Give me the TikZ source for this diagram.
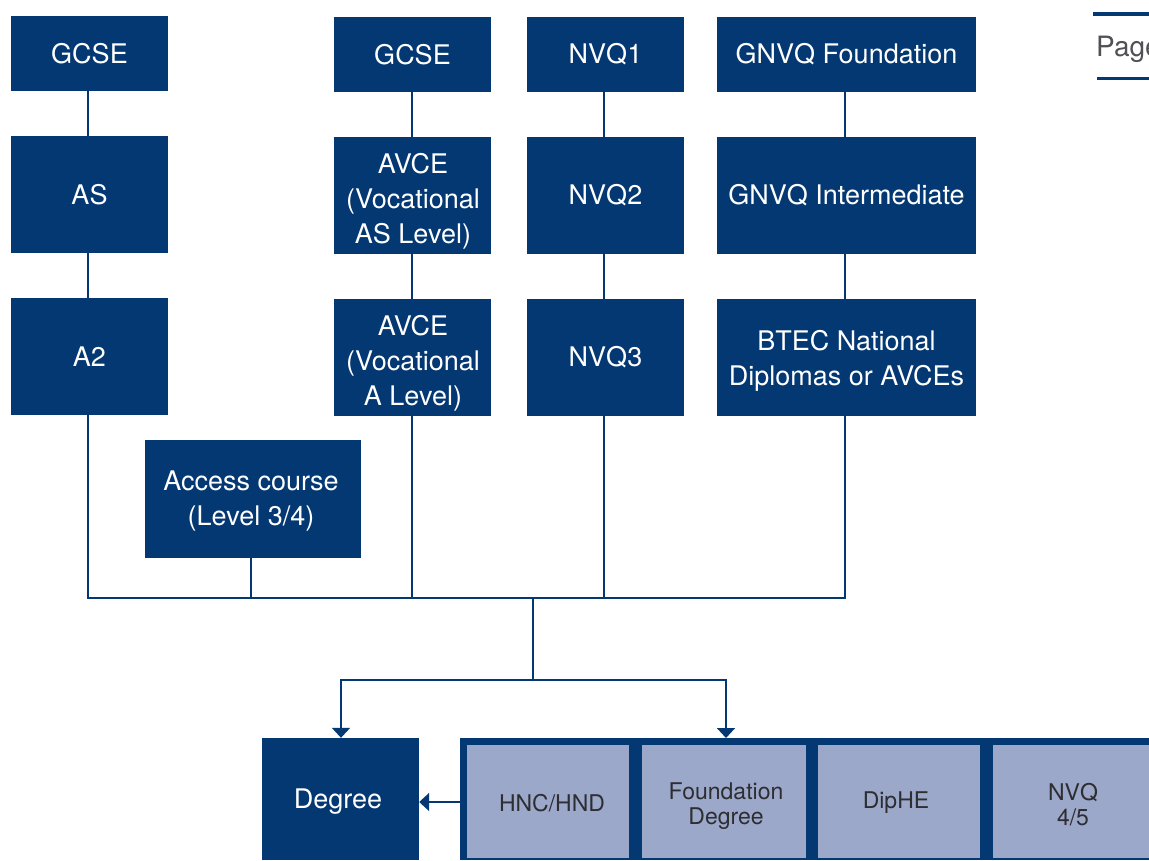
\documentclass[tikz,border=0pt]{standalone}
\usepackage{fontspec}
\setmainfont{TeX Gyre Heros}
\usetikzlibrary{arrows.meta}
\definecolor{navy}{RGB}{3,56,115}
\definecolor{pale}{RGB}{155,168,201}
\definecolor{darktext}{RGB}{45,45,50}
\definecolor{pagegray}{RGB}{80,80,85}
\begin{document}
\begin{tikzpicture}[x=1pt,y=-1pt,
  dbox/.style={fill=navy,draw=none,text=white,align=center,inner sep=0pt,
    font=\fontsize{27}{35}\selectfont},
  dtext/.style={text=white,align=center,inner sep=0pt,
    font=\fontsize{27}{35}\selectfont},
  lbox/.style={fill=pale,draw=none,inner sep=0pt},
  ltext/.style={text=darktext,align=center,inner sep=0pt,
    font=\fontsize{23}{25}\selectfont},
  conn/.style={draw=navy,line width=2pt},
  arr/.style={conn,-{Triangle[width=18pt,length=10pt]}}]
\useasboundingbox (0,0) rectangle (1149,860);
\clip (0,0) rectangle (1149,860);
% column 1
\node[dbox,minimum width=157,minimum height=75] (g1) at (89.5,53.5) {GCSE};
\node[dbox,minimum width=157,minimum height=117] (as) at (89.5,194.5) {AS};
\node[dbox,minimum width=157,minimum height=117] (a2) at (89.5,356.5) {A2};
% column 2
\node[dbox,minimum width=157,minimum height=75] (g2) at (412.5,54.5) {GCSE};
\node[dbox,minimum width=157,minimum height=117] (av1) at (412.5,195.5) {};
\node[dtext] (av1t) at (413,201) {AVCE\\(Vocational\\AS Level)};
\node[dbox,minimum width=157,minimum height=117] (av2) at (412.5,357.5) {};
\node[dtext] (av2t) at (413,363) {AVCE\\(Vocational\\A Level)};
% column 3
\node[dbox,minimum width=157,minimum height=75] (n1) at (605.5,54.5) {NVQ1};
\node[dbox,minimum width=157,minimum height=117] (n2) at (605.5,195.5) {NVQ2};
\node[dbox,minimum width=157,minimum height=117] (n3) at (605.5,357.5) {NVQ3};
% column 4
\node[dbox,minimum width=259,minimum height=75] (gf) at (846.5,54.5) {GNVQ Foundation};
\node[dbox,minimum width=259,minimum height=117] (gi) at (846.5,195.5) {GNVQ Intermediate};
\node[dbox,minimum width=259,minimum height=117] (bt) at (846.5,357.5) {};
\node[dtext] (btt) at (846.5,360.5) {BTEC National\\Diplomas or AVCEs};
% access
\node[dbox,minimum width=216,minimum height=118] (ac) at (253,499) {};
\node[dtext] (act) at (251,501) {Access course\\(Level 3/4)};
% bottom
\node[dbox,minimum width=157,minimum height=122] (deg) at (340.5,799) {};
\node[dtext] (degt) at (338,802) {Degree};
\node[fill=navy,draw=none,inner sep=0pt,minimum width=700,minimum height=122] (he) at (810,799) {};
\node[lbox,minimum width=162,minimum height=113] (hnc) at (548,801.5) {};
\node[ltext] (hnct) at (552,803) {HNC/HND};
\node[lbox,minimum width=164,minimum height=113] (fd) at (724,801.5) {};
\node[ltext] (fdt) at (726,806) {Foundation\\Degree};
\node[lbox,minimum width=162,minimum height=113] (dip) at (899,801.5) {};
\node[ltext] (dipt) at (896,803) {DipHE};
\node[lbox,minimum width=170,minimum height=113] (nvq) at (1078,801.5) {};
\node[ltext] (nvqt) at (1073,805) {NVQ\\4/5};
% page tab
\node[anchor=base west,inner sep=0pt,text=pagegray,font=\fontsize{28}{30}\selectfont] (pg) at (1096,56) {Page};
\coordinate (tl1) at (1093,13.5);
\coordinate (tl2) at (1150,13.5);
\coordinate (bl1) at (1097,78.5);
\coordinate (bl2) at (1150,78.5);
\draw[navy,line width=4pt] (tl1) -- (tl2);
\draw[navy,line width=3pt] (bl1) -- (bl2);
% connectors
\coordinate (busL) at (88,598);
\coordinate (busR) at (845,598);
\coordinate (x2) at (412,598);
\coordinate (x3) at (604,598);
\coordinate (xa) at (251,598);
\coordinate (trunk) at (533,598);
\coordinate (split) at (533,680);
\coordinate (heTop) at (726,738);
\draw[conn] (g1.south -| busL) -- (as.north -| busL);
\draw[conn] (as.south -| busL) -- (a2.north -| busL);
\draw[conn] (g2.south -| x2) -- (av1.north -| x2);
\draw[conn] (av1.south -| x2) -- (av2.north -| x2);
\draw[conn] (n1.south -| x3) -- (n2.north -| x3);
\draw[conn] (n2.south -| x3) -- (n3.north -| x3);
\draw[conn] (gf.south -| busR) -- (gi.north -| busR);
\draw[conn] (gi.south -| busR) -- (bt.north -| busR);
\draw[conn] (a2.south -| busL) -- (busL) -- (busR) -- (bt.south -| busR);
\draw[conn] (ac.south -| xa) -- (xa);
\draw[conn] (av2.south -| x2) -- (x2);
\draw[conn] (n3.south -| x3) -- (x3);
\draw[conn] (trunk) -- (split);
\draw[arr] (split) -| (deg.north -| 341,0);
\draw[arr] (split) -| (heTop);
\draw[arr] (he.west |- 0,802) -- (deg.east |- 0,802);
\end{tikzpicture}
\end{document}
